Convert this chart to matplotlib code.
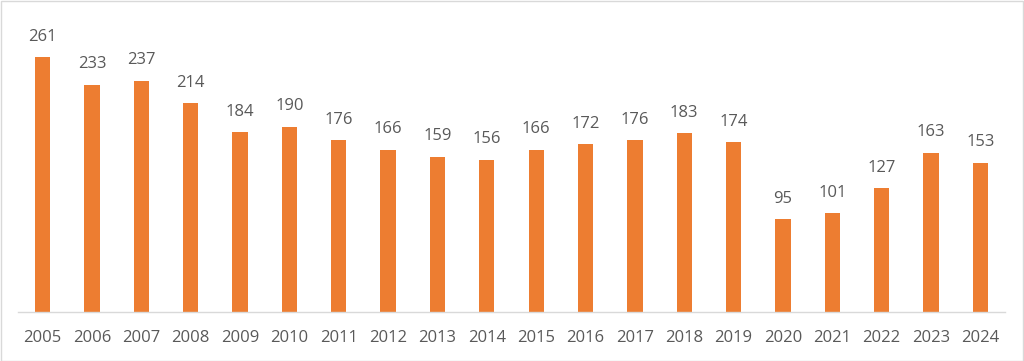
import matplotlib.pyplot as plt
import numpy as np
from matplotlib.patches import Rectangle

years = [str(y) for y in range(2005, 2025)]
values = [261, 233, 237, 214, 184, 190, 176, 166, 159, 156,
          166, 172, 176, 183, 174, 95, 101, 127, 163, 153]

plt.rcParams["font.family"] = ["Open Sans", "DejaVu Sans"]
text_color = "#595959"
bar_color = "#ED7D31"

W, H = 1024, 361
fig = plt.figure(figsize=(W / 100, H / 100), dpi=100)
# axes placed in pixel coordinates
left, right, top, bottom = 18, 1005, 10, 312
ax = fig.add_axes([left / W, 1 - bottom / H, (right - left) / W, (bottom - top) / H])

x = np.arange(len(years))
bars = ax.bar(x, values, width=0.31, color=bar_color)
ax.set_xlim(-0.5, len(years) - 0.5)
ax.set_ylim(0, (bottom - top) / 0.976)

for xi, v in zip(x, values):
    ax.annotate(str(v), (xi, v), xytext=(0, 9), textcoords="offset points",
                ha="center", va="bottom", fontsize=12, color=text_color)

ax.set_xticks(x)
ax.set_xticklabels(years, fontsize=12, color=text_color)
ax.tick_params(axis="x", length=0, pad=13)
ax.set_yticks([])
for s in ["top", "left", "right"]:
    ax.spines[s].set_visible(False)
ax.spines["bottom"].set_color("#D9D9D9")
ax.spines["bottom"].set_linewidth(1)

# light frame around the chart area
fig.patches.append(Rectangle((0.5 / W, 0.5 / H), 1 - 1.5 / W, 1 - 1.5 / H,
                             transform=fig.transFigure, fill=False,
                             edgecolor="#D9D9D9", linewidth=1))

fig.savefig("out.png", dpi=100)
